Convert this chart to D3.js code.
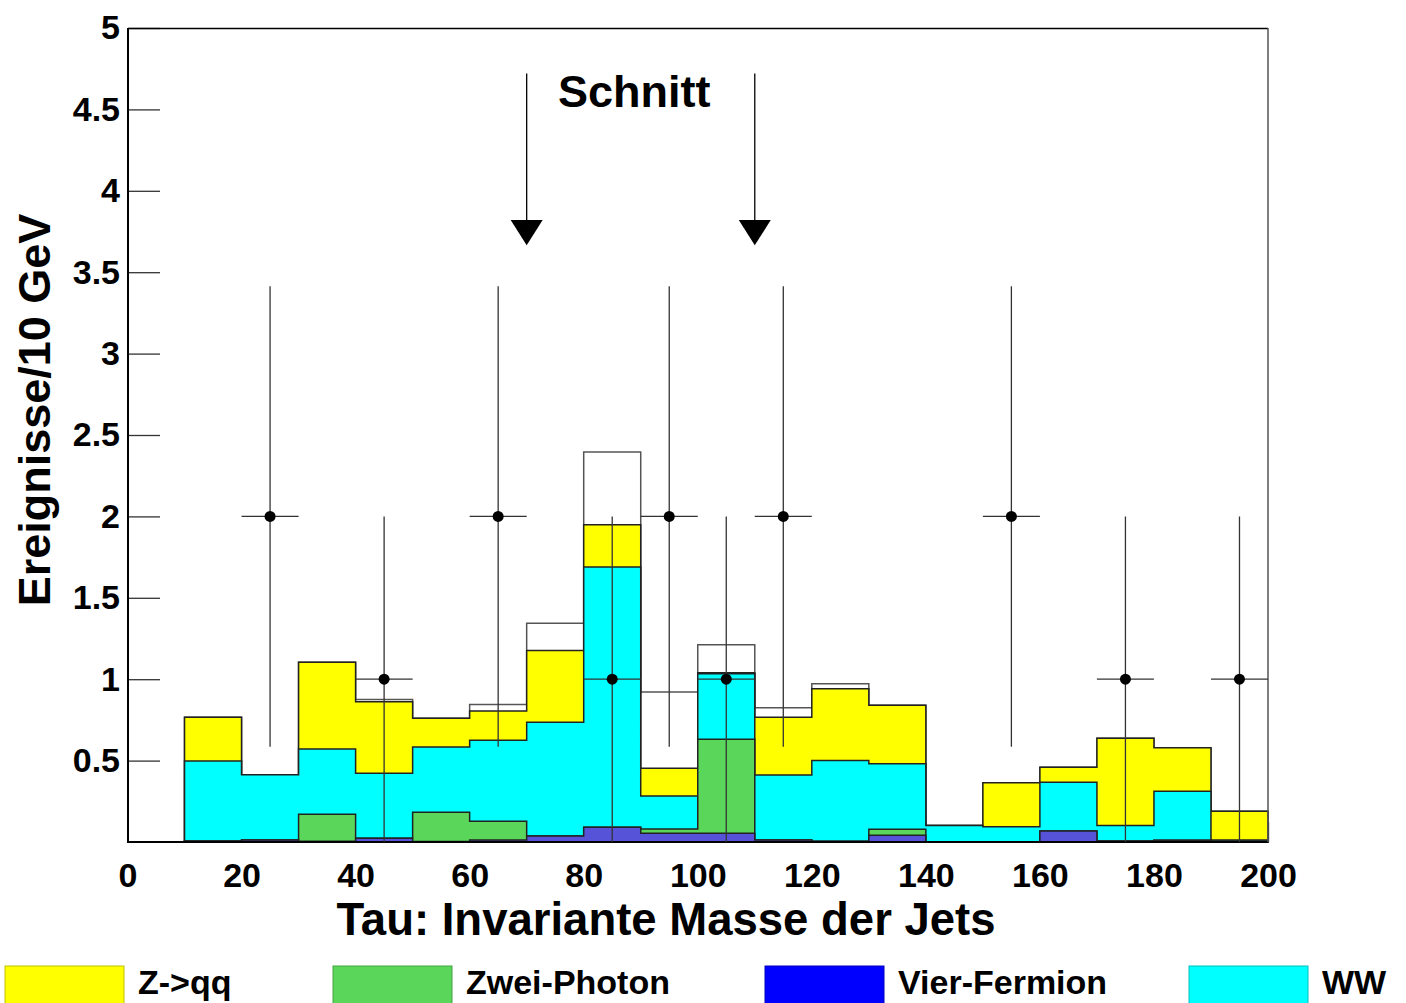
<!DOCTYPE html>
<html>
<head>
<meta charset="utf-8">
<script src="https://cdn.jsdelivr.net/npm/d3@7"></script>
<style>
  body { margin: 0; background: #fff; }
  svg text { font-family: "Liberation Sans", Arial, Helvetica, sans-serif; font-weight: bold; }
</style>
</head>
<body>
<div id="chart"></div>
<script>
// bin low edges, 10 GeV wide
var binEdges = d3.range(0, 200, 10);
// per-process contributions (stacked bottom -> top)
var vierFermion = [0, 0.006, 0.012, 0.005, 0.023, 0.003, 0.012, 0.037, 0.090, 0.053, 0.053, 0.012, 0.005, 0.041, 0.002, 0.001, 0.068, 0.006, 0.010, 0.005];
var zweiPhoton  = [0, 0, 0, 0.165, 0, 0.179, 0.115, 0, 0, 0.027, 0.578, 0, 0, 0.037, 0, 0, 0, 0, 0, 0];
var ww          = [0, 0.491, 0.401, 0.401, 0.399, 0.401, 0.498, 0.698, 1.599, 0.203, 0.403, 0.400, 0.495, 0.403, 0.100, 0.093, 0.299, 0.096, 0.301, 0.007];
var zqq         = [0, 0.269, 0, 0.533, 0.440, 0.177, 0.180, 0.442, 0.260, 0.170, 0.006, 0.354, 0.442, 0.359, 0, 0.270, 0.092, 0.535, 0.268, 0.177];
// total expectation (outline histogram)
var gesamt      = [0, 0.766, 0.413, 1.104, 0.876, 0.760, 0.844, 1.343, 2.396, 0.921, 1.212, 0.825, 0.972, 0.840, 0.102, 0.364, 0.459, 0.637, 0.579, 0.189];
// data: events per bin
var daten       = [0, 0, 2, 0, 1, 0, 2, 0, 1, 2, 1, 2, 0, 0, 0, 2, 0, 1, 0, 1];
// cut positions
var schnitte = [70, 110];

var legendNames  = ['Z->qq', 'Zwei-Photon', 'Vier-Fermion', 'WW'];
var legendColors = ['#ffff00', '#5ad65a', '#0000ff', '#00ffff'];
var xTicks = d3.range(0, 201, 20);
var yTicks = [0.5, 1, 1.5, 2, 2.5, 3, 3.5, 4, 4.5, 5];

var W = 1406, H = 1003;
var svg = d3.select('#chart').append('svg')
    .attr('width', W).attr('height', H);

var x = d3.scaleLinear().domain([0, 200]).range([127.5, 1268]);
var y = d3.scaleLinear().domain([0, 5]).range([842, 28]);

// x axis ticks (drawn first, histograms cover them)
var gx = svg.append('g').attr('transform', 'translate(0,842)');
gx.call(d3.axisBottom(x).tickValues(d3.range(0, 201, 5)).tickSize(-10).tickFormat(''));
gx.call(d3.axisBottom(x).tickValues(xTicks).tickSize(-20).tickPadding(21).tickFormat(d3.format('d')));
gx.selectAll('.domain').remove();
gx.selectAll('line').attr('stroke', '#222').attr('stroke-width', 1.3);
gx.selectAll('text').style('font-size', '34px').attr('fill', '#000');

// y axis
var gy = svg.append('g').attr('transform', 'translate(128,0)');
gy.call(d3.axisLeft(y).tickValues(d3.range(1, 50).map(function (d) { return d / 10; })).tickSize(-18).tickFormat(''));
gy.call(d3.axisLeft(y).tickValues(yTicks).tickSize(-32).tickPadding(8).tickFormat(d3.format('~g')));
gy.selectAll('.domain').remove();
gy.selectAll('line').attr('stroke', '#333').attr('stroke-width', 1.3);
gy.selectAll('text').style('font-size', '34px').attr('fill', '#000');

// histograms
function stepPath(vals) {
    var p = d3.path();
    p.moveTo(x(0), y(0));
    vals.forEach(function (v, i) {
        p.lineTo(x(binEdges[i]), y(v));
        p.lineTo(x(binEdges[i] + 10), y(v));
    });
    p.lineTo(x(200), y(0));
    p.closePath();
    return p.toString();
}

var table = binEdges.map(function (e, i) {
    return { vier: vierFermion[i], zwei: zweiPhoton[i], ww: ww[i], zqq: zqq[i] };
});
var stack = d3.stack().keys(['vier', 'zwei', 'ww', 'zqq'])(table);
var histColors = { vier: '#5753d8', zwei: '#5ad65a', ww: '#00ffff', zqq: '#ffff00' };

var gh = svg.append('g');
gh.append('path')
    .attr('d', stepPath(gesamt))
    .attr('fill', '#fff').attr('stroke', '#555').attr('stroke-width', 1.5);

// draw top layer first so lower layers sit on top
stack.slice().reverse().forEach(function (layer) {
    gh.append('path')
        .attr('d', stepPath(layer.map(function (d) { return d[1]; })))
        .attr('fill', histColors[layer.key])
        .attr('stroke', '#222').attr('stroke-width', 1.5);
});

// axis lines and frame
svg.append('line').attr('x1', 128).attr('x2', 128).attr('y1', 28).attr('y2', 843)
    .attr('stroke', '#000').attr('stroke-width', 2);
svg.append('line').attr('x1', 127).attr('x2', 1268).attr('y1', 842).attr('y2', 842)
    .attr('stroke', '#000').attr('stroke-width', 2);
svg.append('line').attr('x1', 128).attr('x2', 1268).attr('y1', 28.5).attr('y2', 28.5)
    .attr('stroke', '#000').attr('stroke-width', 1.3);
svg.append('line').attr('x1', 1268).attr('x2', 1268).attr('y1', 28).attr('y2', 842)
    .attr('stroke', '#555').attr('stroke-width', 1.5);

// data points with errors
var pts = binEdges.map(function (e, i) { return { c: e + 5, n: daten[i] }; })
    .filter(function (d) { return d.n > 0; });
var gd = svg.append('g');
pts.forEach(function (d) {
    var err = Math.sqrt(d.n);
    gd.append('line')
        .attr('x1', x(d.c)).attr('x2', x(d.c))
        .attr('y1', y(d.n + err)).attr('y2', y(Math.max(d.n - err, 0)))
        .attr('stroke', '#333').attr('stroke-width', 1.3);
    gd.append('line')
        .attr('x1', x(d.c - 5)).attr('x2', x(d.c + 5))
        .attr('y1', y(d.n)).attr('y2', y(d.n))
        .attr('stroke', '#333').attr('stroke-width', 1.3);
    gd.append('circle')
        .attr('cx', x(d.c)).attr('cy', y(d.n)).attr('r', 5.5)
        .attr('fill', '#000');
});

// cut arrows
schnitte.forEach(function (s) {
    var cx = x(s);
    svg.append('line')
        .attr('x1', cx).attr('x2', cx)
        .attr('y1', y(4.72)).attr('y2', y(3.8))
        .attr('stroke', '#000').attr('stroke-width', 1.3);
    svg.append('path')
        .attr('d', 'M' + (cx - 16) + ',' + y(3.82) + 'L' + (cx + 16) + ',' + y(3.82) + 'L' + cx + ',' + y(3.665) + 'Z')
        .attr('fill', '#000');
});
svg.append('text')
    .attr('x', 558).attr('y', 107)
    .style('font-size', '45px')
    .text('Schnitt');

// axis titles
svg.append('text')
    .attr('x', 666).attr('y', 935)
    .attr('text-anchor', 'middle')
    .style('font-size', '45.5px')
    .text('Tau: Invariante Masse der Jets');
svg.append('text')
    .attr('transform', 'translate(50,410) rotate(-90)')
    .attr('text-anchor', 'middle')
    .style('font-size', '45px')
    .text('Ereignisse/10 GeV');

// legend
var legX = [5, 333, 765, 1189];
var gl = svg.append('g');
legendNames.forEach(function (name, i) {
    gl.append('rect')
        .attr('x', legX[i]).attr('y', 966)
        .attr('width', 119).attr('height', 40)
        .attr('fill', legendColors[i])
        .attr('stroke', d3.color(legendColors[i]).darker(0.8)).attr('stroke-width', 1);
    gl.append('text')
        .attr('x', legX[i] + 133).attr('y', 994)
        .style('font-size', '34px')
        .text(name);
});
</script>
</body>
</html>
